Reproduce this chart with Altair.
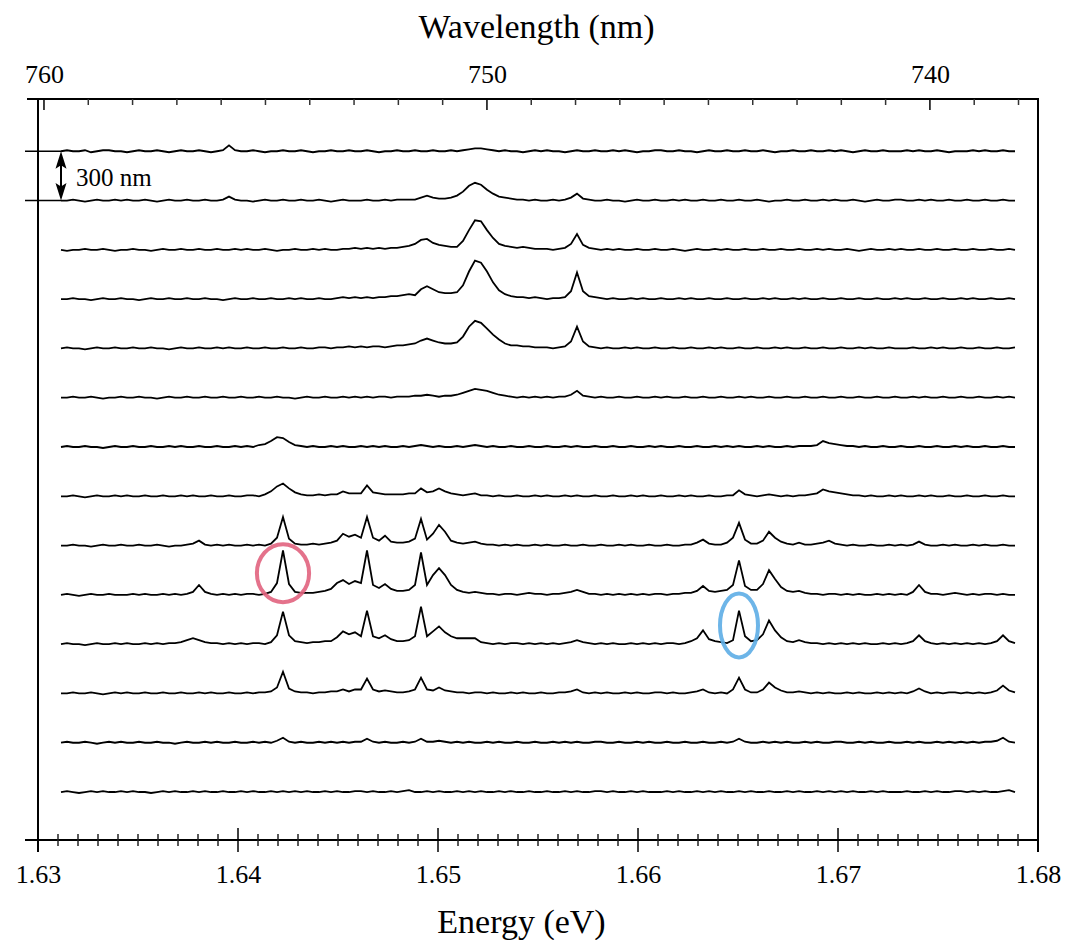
import altair as alt
import pandas as pd

# Spectrometer sampling: one sample every 0.3 meV
E_START = 1.63115
E_STEP = 0.0003
N_SAMPLES = 160
ENERGY = [round(E_START + E_STEP * j, 5) for j in range(N_SAMPLES)]

SPACING_NM = 300      # distance between neighbouring measurement positions
NM_PER_COUNT = 6.0    # vertical extent of one PL count in the offset plot

# PL counts (background subtracted) at each position along the wire, top to bottom
at_3900nm = [
    0, 1, 0, 0, 1, -1, 0, 1, 1, 0, 0, -1, 0, 1, 0, 0, 1, 0, -1, 0, 1, 0, 0, 1, 0, -1, 0, 1, 6, 1, 0, 0, 1, 0, -1, 0, 0, 1, 0, 0,
    1, 0, -1, 0, 0, 1, 0, 0, 1, 0, 0, 1, 0, -1, 0, 0, 1, 0, 0, 1, 0, 0, 1, 0, 0, 1, 0, 1, 2, 3, 3, 2, 1, 0, 1, 0, 0, -1, 0, 1,
    0, 1, 0, 0, -1, 0, 1, 0, 0, 1, 0, 0, 1, 0, 1, 0, -1, 0, 0, 1, 1, 0, 0, 1, 0, 0, -1, 0, 1, 0, 0, 1, 0, 0, 1, 0, 0, 1, 0, -1,
    0, 0, 1, 0, 0, 1, 0, 0, 1, 0, 1, 0, -1, 0, 1, 0, 0, 1, 0, 0, 0, 1, 0, 1, 0, 0, 1, 0, -1, 0, 0, 0, 1, 0, 1, 0, 0, 1, 0, 0,
]
at_3600nm = [
    0, 0, 1, 0, -1, 0, 1, 0, 0, 1, 0, 1, 0, 0, 1, 0, -1, 0, 1, 0, 0, 1, 0, 0, 1, 0, 0, 1, 4, 1, 0, 0, -1, 0, 1, 0, 0, 1, 0, 0,
    1, 0, 0, 1, 0, -1, 0, 1, 0, 0, 0, 1, 0, 0, 1, 0, 1, 1, 1, 1, 3, 5, 3, 2, 2, 3, 5, 9, 15, 18, 16, 11, 7, 4, 3, 2, 1, 1, 0, 1,
    0, 0, 1, 0, 1, 3, 7, 2, 1, 0, 0, 1, 0, 0, -1, 0, 1, 0, 0, 1, 0, 0, 1, 0, 1, 0, 0, 1, 0, 0, 1, 0, 0, 1, 0, 0, 1, 0, -1, 0,
    0, 1, 0, 0, 1, 0, 0, 1, 0, 1, 0, 0, 1, 0, -1, 0, 1, 0, 0, 1, 1, 0, 0, 1, 0, 1, 0, 0, 1, 0, 0, 1, 0, 0, 1, 0, 0, 1, 0, 0,
]
at_3300nm = [
    0, -1, 0, 0, 1, 0, 0, 1, 0, -1, 0, 0, 1, 0, 0, -1, 0, 1, 0, 0, 1, 0, 0, 1, 0, 0, 1, 0, 0, 1, 0, 1, 0, 0, 1, 0, -1, 0, 0, 1,
    0, 0, 1, 0, 1, 0, 0, 1, 1, 2, 1, 2, 1, 2, 1, 2, 2, 3, 4, 6, 10, 11, 7, 5, 4, 3, 3, 9, 20, 30, 29, 20, 12, 6, 4, 3, 2, 3, 2, 1,
    1, 1, 0, 1, 2, 6, 16, 5, 2, 1, 0, 1, 0, 1, 0, 0, 1, 0, 0, 1, 0, 0, 1, 0, -1, 0, 1, 0, 0, 1, 0, 1, 0, 0, 1, 0, 0, 1, 0, 0,
    1, 0, 0, 1, 0, 0, 1, 0, 1, 0, 0, 1, 0, -1, 0, 1, 0, 0, 1, 0, 1, 0, 0, 1, 0, 0, 1, 0, 0, 1, 0, 0, 1, 0, 0, 1, 0, 0, 1, 0,
]
at_3000nm = [
    0, 0, 1, 0, 0, -1, 0, 1, 0, 0, 1, 0, 0, -1, 0, 1, 0, 0, 1, 0, 0, 1, 0, 0, 1, 0, 0, -1, 0, 1, 0, 0, 1, 0, 0, 1, 0, 0, 1, 0,
    1, 0, 0, 1, 0, 0, 1, 2, 1, 2, 1, 2, 1, 2, 2, 3, 3, 4, 5, 4, 10, 13, 10, 7, 6, 6, 7, 14, 28, 39, 37, 28, 17, 9, 5, 3, 2, 2, 1, 2,
    1, 0, 1, 1, 2, 8, 27, 8, 3, 2, 1, 0, 1, 0, 0, 1, 0, 1, 0, 0, 1, 0, 0, 1, 0, 1, 0, 0, 1, 0, 0, 1, 0, 0, 1, 0, 0, 1, 0, 1,
    0, 0, 1, 0, 1, 0, 0, 1, 0, 0, 1, 0, 0, 1, 0, 0, 1, 0, 0, 1, 0, 1, 0, 0, 1, 0, 0, 1, 0, 0, 1, 0, 1, 0, 0, 1, 0, 0, 1, 0,
]
at_2700nm = [
    0, 1, 0, 0, -1, 0, 1, 0, 0, 1, 0, 0, 1, 0, 0, 1, 0, 0, -1, 0, 1, 0, 0, 1, 0, 0, 1, 0, 1, 0, 0, 1, 0, 0, 1, 0, 0, 1, 0, 0,
    1, 0, 0, 1, 1, 0, 1, 1, 2, 1, 2, 1, 2, 2, 1, 2, 3, 3, 4, 5, 8, 10, 8, 6, 5, 5, 6, 12, 22, 28, 26, 20, 14, 9, 5, 3, 3, 2, 2, 1,
    1, 1, 0, 1, 2, 7, 22, 7, 2, 1, 0, 1, 0, 0, 1, 0, 1, 0, 0, 1, 0, 0, 1, 0, 0, 1, 0, 0, 1, 0, 1, 0, 0, 1, 0, 0, 1, 0, 0, 1,
    0, 1, 0, 0, 1, 0, 0, 1, 0, 0, 1, 0, 0, 1, 0, 1, 0, 0, 1, 0, 0, 0, 1, 0, 0, 1, 0, 1, 0, 0, 1, 0, 0, 1, 0, 0, 1, 0, 0, 1,
]
at_2400nm = [
    0, 0, 1, 0, 0, 1, 0, -1, 0, 0, 1, 0, 0, 1, 0, 0, -1, 0, 1, 0, 0, 1, 0, 0, 1, 0, 0, 1, 0, 0, 1, 0, 0, 1, 0, 0, 1, 0, 0, -1,
    0, 1, 0, 0, 1, 0, 0, 1, 0, 1, 0, 1, 0, 1, 1, 0, 1, 1, 1, 2, 2, 3, 2, 1, 2, 2, 3, 5, 7, 9, 8, 7, 5, 3, 2, 1, 0, 1, 0, 1,
    0, 1, 0, 1, 1, 3, 7, 2, 1, 0, 1, 0, 0, 1, 0, 0, 1, 0, 0, 1, 0, 1, 0, 0, 1, 0, 0, 1, 0, 0, 1, 0, 0, 1, 0, 1, 0, 0, 1, 0,
    0, 1, 0, 0, 1, 0, 0, 1, 0, 0, 1, 0, 0, 1, 0, 0, 1, 0, 0, 1, 0, 0, 1, 0, 1, 0, 0, 1, 0, 0, 1, 0, 0, 1, 0, 0, 1, 0, 1, 0,
]
at_2100nm = [
    0, 1, 0, 0, 1, 0, 0, -1, 0, 1, 0, 0, 1, 0, 0, 1, 0, 0, 1, 0, 1, 0, 0, 1, 0, 0, 1, 0, 0, 1, 0, 1, 0, 2, 3, 6, 10, 9, 5, 2,
    1, 0, 1, 0, 0, 1, 0, 1, 0, 0, 1, 0, 1, 0, 1, 0, 0, 1, 0, 1, 2, 1, 0, 1, 0, 0, 1, 0, 1, 2, 1, 0, 1, 0, 0, 1, 0, 0, 1, 0,
    0, 1, 0, 0, 1, 0, 1, 0, 0, 1, 0, 0, 1, 0, 0, 1, 0, 0, 1, 0, 1, 0, 0, 1, 0, 0, 1, 0, 0, 1, 0, 1, 0, 1, 0, 0, 1, 0, 1, 0,
    0, 1, 0, 1, 1, 1, 2, 6, 4, 3, 2, 1, 1, 0, 1, 0, 0, 1, 0, 0, 1, 0, 0, 1, 0, 0, 1, 0, 0, 1, 0, 1, 0, 0, 1, 0, 0, 1, 0, 0,
]
at_1800nm = [
    0, 0, 1, 0, -1, 0, 1, 0, 0, 1, 0, 1, 0, 0, 1, 0, 0, 1, 0, 0, 1, 0, 1, 0, 0, 1, 0, 0, 1, 0, 0, 1, 1, 0, 2, 5, 10, 13, 8, 4,
    2, 1, 1, 2, 1, 2, 2, 5, 3, 3, 3, 11, 4, 3, 2, 2, 2, 2, 3, 3, 8, 4, 5, 8, 5, 3, 2, 1, 2, 3, 1, 1, 0, 1, 0, 0, 1, 0, 0, 1,
    0, 1, 0, 0, 1, 0, 1, 0, 0, 1, 0, 0, 1, 0, 0, 1, 0, 1, 0, 0, 1, 0, 0, 1, 0, 1, 0, 0, 1, 0, 0, 1, 1, 6, 2, 1, 0, 1, 2, 1,
    0, 1, 0, 1, 1, 2, 3, 7, 5, 4, 3, 2, 1, 1, 0, 1, 0, 0, 1, 0, 1, 0, 0, 1, 0, 1, 0, 0, 1, 0, 0, 1, 0, 0, 1, 0, 0, 1, 0, 0,
]
at_1500nm = [
    0, 0, 1, 0, 0, -1, 0, 1, 0, 0, 1, 0, 0, 1, 0, 0, 1, 0, -1, 0, 0, 1, 2, 5, 1, 0, 1, 0, 1, 0, 0, 1, 0, 1, 0, 2, 8, 29, 7, 2,
    1, 1, 2, 1, 2, 3, 5, 12, 9, 11, 8, 29, 8, 5, 10, 4, 3, 3, 4, 7, 27, 6, 12, 21, 14, 5, 3, 2, 3, 4, 2, 1, 1, 0, 1, 0, 1, 0, 0, 1,
    0, 1, 0, 0, 1, 0, 0, 1, 0, 0, 1, 0, 0, 1, 0, 1, 0, 0, 1, 0, 0, 1, 0, 0, 1, 1, 3, 6, 2, 1, 1, 3, 8, 23, 6, 2, 2, 5, 14, 8,
    4, 2, 1, 3, 1, 1, 2, 3, 5, 2, 1, 0, 1, 0, 0, 1, 0, 0, 1, 0, 1, 0, 1, 4, 1, 0, 0, 1, 0, 1, 0, 0, 1, 0, 1, 0, 0, 1, 0, 0,
]
at_1200nm = [
    0, 1, 0, -1, 0, 1, 0, 0, 1, 0, 0, 0, 1, 0, 1, 0, 0, 1, 0, 1, 0, 1, 3, 10, 3, 1, 0, 1, 0, 1, 0, 1, 1, 0, 1, 3, 12, 45, 11, 3,
    2, 2, 2, 3, 4, 6, 12, 15, 11, 14, 12, 45, 10, 7, 11, 6, 4, 4, 5, 10, 43, 10, 20, 27, 20, 10, 5, 3, 2, 3, 2, 1, 1, 0, 1, 1, 0, 1, 2, 1,
    1, 0, 1, 1, 2, 3, 5, 3, 1, 1, 0, 1, 0, 1, 0, 1, 0, 1, 0, 1, 1, 0, 1, 1, 2, 2, 4, 9, 4, 3, 4, 5, 10, 35, 9, 5, 5, 11, 25, 16,
    8, 4, 3, 4, 2, 1, 1, 0, 1, 1, 0, 1, 0, 1, 0, 0, 1, 0, 1, 0, 1, 0, 3, 10, 3, 1, 1, 0, 1, 2, 1, 0, 1, 0, 1, 1, 0, 1, 0, 0,
]
at_900nm = [
    0, 1, 0, 0, -1, 0, 1, 0, 0, 1, 0, 1, 0, 0, 1, 0, 1, 0, 1, 1, 2, 4, 6, 4, 2, 1, 1, 0, 1, 0, 1, 0, 1, 1, 0, 2, 9, 33, 9, 3,
    2, 1, 2, 2, 3, 3, 7, 13, 10, 12, 8, 34, 8, 6, 9, 5, 3, 3, 4, 8, 38, 8, 13, 18, 12, 8, 6, 6, 6, 6, 2, 1, 0, 1, 0, 1, 1, 0, 1, 0,
    1, 0, 1, 0, 1, 2, 4, 2, 1, 0, 1, 0, 1, 0, 0, 1, 0, 1, 0, 1, 0, 1, 1, 0, 1, 3, 6, 14, 5, 3, 2, 1, 4, 34, 8, 3, 4, 10, 24, 14,
    7, 3, 2, 4, 2, 1, 1, 0, 1, 0, 1, 0, 1, 0, 1, 0, 0, 1, 0, 1, 0, 1, 3, 9, 3, 1, 0, 1, 0, 1, 0, 1, 0, 1, 0, 1, 3, 9, 3, 1,
]
at_600nm = [
    0, 0, 1, 0, 0, 1, 0, -1, 0, 1, 0, 1, 0, 0, 1, 0, 0, 1, 0, 0, 1, 0, 0, 1, 0, 1, 0, 0, 1, 0, 0, 1, 0, 1, 1, 2, 6, 22, 5, 2,
    1, 1, 0, 1, 1, 2, 2, 4, 2, 4, 4, 15, 4, 2, 3, 2, 1, 1, 2, 4, 16, 4, 3, 6, 3, 2, 1, 1, 0, 1, 1, 0, 1, 0, 0, 1, 0, 1, 0, 0,
    1, 0, 0, 1, 1, 2, 4, 1, 0, 1, 0, 1, 0, 0, 1, 0, 1, 0, 0, 1, 1, 0, 1, 0, 0, 1, 2, 4, 1, 0, 1, 0, 4, 16, 4, 1, 1, 4, 11, 6,
    3, 1, 1, 2, 1, 0, 1, 0, 1, 0, 0, 1, 0, 1, 0, 0, 1, 0, 1, 0, 1, 0, 2, 5, 2, 0, 1, 0, 1, 1, 0, 1, 0, 1, 0, 1, 3, 8, 3, 1,
]
at_300nm = [
    0, 1, 0, 0, 1, 0, -1, 0, 1, 0, 1, 0, 0, 1, 0, 0, 1, 0, 0, -1, 0, 1, 0, 0, 1, 0, 1, 0, 0, 1, 0, 0, 1, 0, 1, 0, 2, 5, 1, 0,
    1, 0, 0, 1, 0, 1, 0, 1, 0, 1, 1, 4, 1, 0, 1, 0, 0, 1, 0, 1, 4, 1, 1, 2, 1, 0, 1, 0, 1, 0, 0, 1, 0, 1, 0, 0, 1, 0, 0, 1,
    0, 0, 1, 0, 1, 0, 1, 0, 0, 1, 1, 0, 0, 1, 0, 0, 1, 0, 1, 0, 0, 1, 0, 0, 1, 0, 0, 1, 0, 0, 1, 0, 1, 4, 1, 0, 0, 1, 0, 1,
    0, 1, 0, 0, 1, 0, 1, 0, 0, 1, 1, 0, 0, 1, 0, 1, 0, 0, 1, 0, 0, 1, 0, 1, 0, 0, 1, 0, 1, 0, 1, 0, 1, 0, 1, 1, 2, 5, 1, 0,
]
at_0nm = [
    0, 1, 0, -1, 0, 1, 0, 1, 0, 0, 1, 0, 1, 0, 0, -1, 0, 1, 0, 1, 0, 0, 1, 0, 1, 0, 0, 1, 0, 0, 1, 0, 1, 0, 0, 1, 0, 1, 0, 1,
    0, 1, 0, 0, 1, 0, 1, 0, 0, 1, 1, 0, 1, 0, 0, 1, 0, 1, 2, 0, 0, 1, 0, 1, 0, 0, 1, 0, 1, 0, 1, 0, 0, 1, 0, 1, 0, 0, 1, 0,
    0, 1, 0, 0, 1, 0, 1, 0, 0, 1, 1, 0, 1, 0, 0, 1, 0, 1, 0, 0, 0, 1, 0, 1, 0, 0, 1, 0, 1, 0, 1, 0, 0, 1, 0, 1, 0, 0, 1, 0,
    0, 1, 0, 1, 0, 0, 1, 0, 1, 0, 1, 0, 1, 0, 0, 1, 0, 1, 0, 0, 0, 1, 0, 0, 1, 0, 1, 0, 0, 1, 1, 0, 1, 0, 1, 0, 0, 1, 2, 0,
]

SPECTRA = [at_3900nm, at_3600nm, at_3300nm, at_3000nm, at_2700nm, at_2400nm, at_2100nm,
           at_1800nm, at_1500nm, at_1200nm, at_900nm, at_600nm, at_300nm, at_0nm]
POSITIONS_NM = [3900, 3600, 3300, 3000, 2700, 2400, 2100, 1800, 1500, 1200, 900, 600, 300, 0]

# Axis ticks
ENERGY_MAJOR = [1.63, 1.64, 1.65, 1.66, 1.67, 1.68]
ENERGY_MINOR = [round(1.63 + 0.001 * i, 3) for i in range(1, 50) if i % 10]
WL_MAJOR = [740, 750, 760]
WL_MINOR = [w for w in range(738, 760) if w % 10]

# Highlighted lines: (energy, position, height of ellipse centre in counts)
CIRCLED_ENERGY = [1.64225, 1.66505]
CIRCLED_POSITION = [1200, 900]
CIRCLED_LIFT = [22, 19]
CIRCLED_COLOR = ["#e2637f", "#5eaee6"]
CIRCLED_SHAPE = ["M -0.9 0 A 0.9 1 0 1 1 0.9 0 A 0.9 1 0 1 1 -0.9 0 Z",
                 "M -0.594 0 A 0.594 1 0 1 1 0.594 0 A 0.594 1 0 1 1 -0.594 0 Z"]
CIRCLED_SIZE = [58 ** 2, 64 ** 2]

# Scale bar between the two top spectra
BAR_ENERGY = 1.63115
BAR_LEAD_ENERGY = 1.62935
BAR_TOP, BAR_BOTTOM = 3900, 3600

W, H = 1000, 741
SERIF = "Liberation Serif"

rows = []
for pos, counts in zip(POSITIONS_NM, SPECTRA):
    assert len(counts) == N_SAMPLES
    for e, c in zip(ENERGY, counts):
        rows.append({"position": pos, "energy": e, "y": pos + c * NM_PER_COUNT})
spectra_df = pd.DataFrame(rows)

x_scale = alt.Scale(domain=[1.63, 1.68], nice=False, zero=False)
y_scale = alt.Scale(domain=[-292, 4218], nice=False, zero=False)
wl_scale = alt.Scale(domain=[737.56, 760.135], reverse=True, nice=False, zero=False)

lines = alt.Chart(spectra_df).mark_line(color="black", strokeWidth=1.8, strokeJoin="miter").encode(
    x=alt.X("energy:Q", scale=x_scale, axis=alt.Axis(
        orient="bottom", values=ENERGY_MAJOR, format=".2f", title="Energy (eV)",
        domain=False, ticks=False, tickSize=0, grid=False, labelFlush=False, labelOverlap=False,
        labelPadding=42, labelBaseline="alphabetic", labelFont=SERIF, labelFontSize=26,
        labelColor="black", titleFont=SERIF, titleFontSize=34, titleFontWeight="normal",
        titleColor="black", titleX=483, titleY=92, titleBaseline="alphabetic", titleAlign="center")),
    y=alt.Y("y:Q", scale=y_scale, axis=None),
    detail="position:N",
)

minor_e = alt.Chart(pd.DataFrame({"energy": ENERGY_MINOR})).mark_rule(
    color="#222", strokeWidth=1.5).encode(
    x=alt.X("energy:Q", scale=x_scale, axis=None),
    y=alt.value(H - 6), y2=alt.value(H + 6))
major_e = alt.Chart(pd.DataFrame({"energy": ENERGY_MAJOR[1:-1]})).mark_rule(
    color="black", strokeWidth=1.5).encode(
    x=alt.X("energy:Q", scale=x_scale, axis=None),
    y=alt.value(H - 12), y2=alt.value(H + 12))

minor_wl = alt.Chart(pd.DataFrame({"wl": WL_MINOR})).mark_rule(
    color="#333", strokeWidth=1.5).encode(
    x=alt.X("wl:Q", scale=wl_scale, axis=None),
    y=alt.value(0), y2=alt.value(6))
major_wl = alt.Chart(pd.DataFrame({"wl": WL_MAJOR})).mark_rule(
    color="black", strokeWidth=1.5).encode(
    x=alt.X("wl:Q", scale=wl_scale, axis=alt.Axis(
        orient="top", values=WL_MAJOR, format="d", title="Wavelength (nm)",
        domain=False, ticks=False, tickSize=0, grid=False, labelFlush=False, labelOverlap=False,
        labelPadding=17, labelBaseline="alphabetic", labelFont=SERIF, labelFontSize=26,
        labelColor="black", titleFont=SERIF, titleFontSize=34, titleFontWeight="normal",
        titleColor="black", titleX=498, titleY=-62, titleBaseline="alphabetic", titleAlign="center")),
    y=alt.value(0), y2=alt.value(11))

circled_df = pd.DataFrame({
    "energy": CIRCLED_ENERGY, "position": CIRCLED_POSITION, "lift": CIRCLED_LIFT,
    "color": CIRCLED_COLOR, "shape": CIRCLED_SHAPE, "size": CIRCLED_SIZE,
})
circled_df["y"] = circled_df["position"] + circled_df["lift"] * NM_PER_COUNT
circles = alt.Chart(circled_df).mark_point(filled=False, strokeWidth=4, opacity=0.9).encode(
    x=alt.X("energy:Q", scale=x_scale, axis=None),
    y=alt.Y("y:Q", scale=y_scale, axis=None),
    shape=alt.Shape("shape:N", scale=None),
    size=alt.Size("size:Q", scale=None),
    stroke=alt.Stroke("color:N", scale=None),
)

# Scale bar: lead-in baselines, double arrow and label
lead_df = pd.DataFrame({"e0": [BAR_LEAD_ENERGY] * 2, "e1": [BAR_ENERGY] * 2, "y": [BAR_TOP, BAR_BOTTOM]})
leads = alt.Chart(lead_df).mark_rule(color="black", strokeWidth=1.5).encode(
    x=alt.X("e0:Q", scale=x_scale, axis=None), x2="e1:Q",
    y=alt.Y("y:Q", scale=y_scale, axis=None))
shaft_df = pd.DataFrame({"e": [BAR_ENERGY], "y0": [BAR_TOP - 50], "y1": [BAR_BOTTOM + 50]})
shaft = alt.Chart(shaft_df).mark_rule(color="black", strokeWidth=2).encode(
    x=alt.X("e:Q", scale=x_scale, axis=None),
    y=alt.Y("y0:Q", scale=y_scale, axis=None), y2="y1:Q")
heads_df = pd.DataFrame({
    "e": [BAR_ENERGY, BAR_ENERGY],
    "y": [BAR_TOP - 61, BAR_BOTTOM + 61],
    "shape": ["M 0 -1 L 0.55 0.75 L 0 0.4 L -0.55 0.75 Z", "M 0 1 L 0.55 -0.75 L 0 -0.4 L -0.55 -0.75 Z"],
})
heads = alt.Chart(heads_df).mark_point(filled=True, color="black", opacity=1, size=400).encode(
    x=alt.X("e:Q", scale=x_scale, axis=None),
    y=alt.Y("y:Q", scale=y_scale, axis=None),
    shape=alt.Shape("shape:N", scale=None))
bar_label = alt.Chart(pd.DataFrame({"e": [1.6319], "y": [(BAR_TOP + BAR_BOTTOM) / 2], "t": ["300 nm"]})).mark_text(
    align="left", baseline="middle", font=SERIF, fontSize=25, color="black", dy=2).encode(
    x=alt.X("e:Q", scale=x_scale, axis=None),
    y=alt.Y("y:Q", scale=y_scale, axis=None),
    text="t:N")

# Short extensions of the frame beyond its corners
frame_df = pd.DataFrame({"x": [0, -13, -11, W], "x2": [0, 0, 0, W], "y": [H, H, 0, H], "y2": [H + 12, H, 0, H + 12]})
frame = alt.Chart(frame_df).mark_rule(color="black", strokeWidth=2).encode(
    x=alt.X("x:Q", scale=None, axis=None), x2="x2:Q",
    y=alt.Y("y:Q", scale=None, axis=None), y2="y2:Q")

chart = alt.layer(
    lines, minor_e, major_e, minor_wl, major_wl, circles, leads, shaft, heads, bar_label, frame
).resolve_scale(x="independent").properties(
    width=W, height=H,
    autosize=alt.AutoSizeParams(type="none"),
    padding={"left": 38, "top": 99, "right": 36, "bottom": 100},
    background="white",
).configure_view(stroke="black", strokeWidth=2)

chart.save("out.html", embed_options={"renderer": "svg", "actions": False})
